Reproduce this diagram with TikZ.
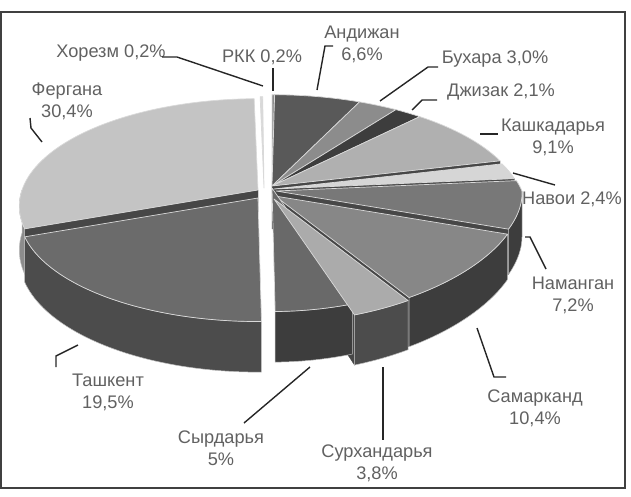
\documentclass[tikz,border=0pt]{standalone}
\usepackage{fontspec}
\setmainfont{Liberation Sans}
\usepackage{tikz}

\begin{document}
\begin{tikzpicture}[x=1pt, y=-1pt,
  declare function={pxl(\t)=236*cos(\t)/(1+0.15*sin(\t));
    pxr(\t)=246*cos(\t)/(1+0.18*max(sin(\t),0)+0.02*min(sin(\t),0));
    pyt(\t)=-105*sin(\t)/(1+0.15*sin(\t));
    pyb(\t)=(43-105*sin(\t))/(1+0.15*sin(\t));},
  slicetop/.style={draw=white!85!black, line width=0.7pt, line join=round},
  slicewall/.style={draw=white!75!black, line width=0.5pt, line join=round},
  sliceface/.style={fill=black!72, draw=black!72, line width=0.3pt},
  regionlabel/.style={font=\fontsize{18.2}{22}\selectfont, text=black!62, align=center, inner sep=0pt},
  leaderline/.style={draw=black!85, line width=1.4pt}]
\useasboundingbox (0,0) rectangle (631,496);
\draw[black!75, line width=1.5pt] (1,12) rectangle (625,488);
% left half
\filldraw[sliceface] (258,190) -- ({258+pxl(200.52)},{190+pyt(200.52)}) -- ({258+pxl(200.52)},{190+pyb(200.52)}) -- (258,233) -- cycle;
\filldraw[slicewall, fill=black!45] plot[domain=180:200.52, samples=20] ({258+pxl(\x)},{190+pyt(\x)}) -- plot[domain=200.52:180, samples=20] ({258+pxl(\x)},{190+pyb(\x)}) -- cycle;
\filldraw[slicetop, fill=black!23] (258,190) -- plot[domain=91.08:200.52, samples=60] ({258+pxl(\x)},{190+pyt(\x)}) -- cycle;
\filldraw[slicetop, fill=black!15] (264,188) -- plot[domain=90.36:91.08, samples=3] ({264+pxl(\x)},{188+pyt(\x)}) -- cycle;
% right half, back slices
\filldraw[slicetop, fill=black!45] (272,186) -- plot[domain=89.28:90, samples=3] ({272+pxr(\x)},{186+pyt(\x)}) -- cycle;
\filldraw[slicetop, fill=black!65] (272,186) -- plot[domain=65.52:89.28, samples=30] ({272+pxr(\x)},{186+pyt(\x)}) -- cycle;
\filldraw[slicetop, fill=black!45] (272,186) -- plot[domain=54.72:65.52, samples=15] ({272+pxr(\x)},{186+pyt(\x)}) -- cycle;
\filldraw[slicetop, fill=black!76] (272,186) -- plot[domain=47.16:54.72, samples=10] ({272+pxr(\x)},{186+pyt(\x)}) -- cycle;
\filldraw[sliceface] (272,186) -- ({272+pxr(14.4)},{186+pyt(14.4)}) -- ({272+pxr(14.4)},{186+pyb(14.4)}) -- (272,229) -- cycle;
\filldraw[slicetop, fill=black!31] (272,186) -- plot[domain=14.4:47.16, samples=40] ({272+pxr(\x)},{186+pyt(\x)}) -- cycle;
\filldraw[sliceface] (274,189) -- ({274+pxr(5.76)},{189+pyt(5.76)}) -- ({274+pxr(5.76)},{189+pyb(5.76)}) -- (274,232) -- cycle;
\filldraw[slicetop, fill=black!16] (274,189) -- plot[domain=5.76:14.4, samples=10] ({274+pxr(\x)},{189+pyt(\x)}) -- cycle;
% right half, front slices
\filldraw[sliceface] (276,191) -- ({276+pxr(-20.16)},{191+pyt(-20.16)}) -- ({276+pxr(-20.16)},{191+pyb(-20.16)}) -- (276,234) -- cycle;
\filldraw[slicewall, fill=black!76] plot[domain=-20.16:0, samples=15] ({276+pxr(\x)},{191+pyt(\x)}) -- plot[domain=0:-20.16, samples=15] ({276+pxr(\x)},{191+pyb(\x)}) -- cycle;
\filldraw[slicetop, fill=black!53] (276,191) -- plot[domain=-20.16:5.76, samples=30] ({276+pxr(\x)},{191+pyt(\x)}) -- cycle;
\filldraw[sliceface] (275,196) -- ({275+pxr(-57.6)},{196+pyt(-57.6)}) -- ({275+pxr(-57.6)},{196+pyb(-57.6)}) -- (275,239) -- cycle;
\filldraw[slicewall, fill=black!76] plot[domain=-57.6:-20.16, samples=40] ({275+pxr(\x)},{196+pyt(\x)}) -- plot[domain=-20.16:-57.6, samples=40] ({275+pxr(\x)},{196+pyb(\x)}) -- cycle;
\filldraw[slicetop, fill=black!47] (275,196) -- plot[domain=-57.6:-20.16, samples=40] ({275+pxr(\x)},{196+pyt(\x)}) -- cycle;
% Tashkent
\filldraw[slicewall, fill=black!70] plot[domain=-159.48:-89.28, samples=60] ({258+pxl(\x)},{198+pyt(\x)}) -- plot[domain=-89.28:-159.48, samples=60] ({258+pxl(\x)},{198+pyb(\x)}) -- cycle;
\filldraw[slicetop, fill=black!58] (258,198) -- plot[domain=-159.48:-89.28, samples=60] ({258+pxl(\x)},{198+pyt(\x)}) -- cycle;
% Syrdarya and Surxandarya
\filldraw[sliceface] (274,199) -- ({274+pxr(-71.28)},{199+pyt(-71.28)}) -- ({274+pxr(-71.28)},{199+pyb(-71.28)}) -- (274,242) -- cycle;
\filldraw[slicewall, fill=black!76] plot[domain=-89.28:-71.28, samples=20] ({272+pxr(\x)},{188+pyt(\x)}) -- plot[domain=-71.28:-89.28, samples=20] ({272+pxr(\x)},{188+pyb(\x)}) -- cycle;
\filldraw[slicetop, fill=black!59] (272,188) -- plot[domain=-89.28:-71.28, samples=20] ({272+pxr(\x)},{188+pyt(\x)}) -- cycle;
\filldraw[slicewall, fill=black!70] plot[domain=-71.28:-57.6, samples=15] ({274+pxr(\x)},{199+pyt(\x)}) -- plot[domain=-57.6:-71.28, samples=15] ({274+pxr(\x)},{199+pyb(\x)}) -- cycle;
\filldraw[slicetop, fill=black!33] (274,199) -- plot[domain=-71.28:-57.6, samples=15] ({274+pxr(\x)},{199+pyt(\x)}) -- cycle;
% labels
\node[regionlabel] (xorezm) at (111,53) {Хорезм 0,2\%};
\node[regionlabel] (rkk) at (262,57) {РКК 0,2\%};
\node[regionlabel] (andijan) at (362,44) {Андижан\\6,6\%};
\node[regionlabel] (buxara) at (495,59) {Бухара 3,0\%};
\node[regionlabel] (jizak) at (501,92) {Джизак 2,1\%};
\node[regionlabel] (kashka) at (553,137) {Кашкадарья\\9,1\%};
\node[regionlabel] (navoi) at (572,199) {Навои 2,4\%};
\node[regionlabel] (namangan) at (573,295) {Наманган\\7,2\%};
\node[regionlabel] (samarkand) at (535,408) {Самарканд\\10,4\%};
\node[regionlabel] (surxan) at (377,463) {Сурхандарья\\3,8\%};
\node[regionlabel] (syrdarya) at (221,448) {Сырдарья\\5\%};
\node[regionlabel] (toshkent) at (108,392) {Ташкент\\19,5\%};
\node[regionlabel] (fergana) at (67,101) {Фергана\\30,4\%};
% leader lines
\coordinate (xorezm-a) at (162,57);
\coordinate (xorezm-b) at (177,57);
\coordinate (xorezm-c) at (263,86);
\draw[leaderline] (xorezm-a) -- (xorezm-b) -- (xorezm-c);
\coordinate (rkk-a) at (273,68);
\coordinate (rkk-b) at (273,91);
\draw[leaderline] (rkk-a) -- (rkk-b);
\coordinate (andijan-a) at (333,46);
\coordinate (andijan-b) at (325,46);
\coordinate (andijan-c) at (317,90);
\draw[leaderline] (andijan-a) -- (andijan-b) -- (andijan-c);
\coordinate (buxara-a) at (438,67);
\coordinate (buxara-b) at (428,67);
\coordinate (buxara-c) at (380,101);
\draw[leaderline] (buxara-a) -- (buxara-b) -- (buxara-c);
\coordinate (jizak-a) at (437,100);
\coordinate (jizak-b) at (422,100);
\coordinate (jizak-c) at (412,110);
\draw[leaderline] (jizak-a) -- (jizak-b) -- (jizak-c);
\coordinate (kashka-a) at (480,134);
\coordinate (kashka-b) at (498,134);
\draw[leaderline] (kashka-a) -- (kashka-b);
\coordinate (navoi-a) at (513,173);
\coordinate (navoi-b) at (555,185);
\draw[leaderline] (navoi-a) -- (navoi-b);
\coordinate (namangan-a) at (525,237);
\coordinate (namangan-b) at (530,237);
\coordinate (namangan-c) at (546,269);
\draw[leaderline] (namangan-a) -- (namangan-b) -- (namangan-c);
\coordinate (samarkand-a) at (477,328);
\coordinate (samarkand-b) at (494,377);
\coordinate (samarkand-c) at (506,377);
\draw[leaderline] (samarkand-a) -- (samarkand-b) -- (samarkand-c);
\coordinate (surxan-a) at (383,367);
\coordinate (surxan-b) at (383,440);
\draw[leaderline] (surxan-a) -- (surxan-b);
\coordinate (syrdarya-a) at (310,367);
\coordinate (syrdarya-b) at (244,423);
\draw[leaderline] (syrdarya-a) -- (syrdarya-b);
\coordinate (toshkent-a) at (78,345);
\coordinate (toshkent-b) at (56,356);
\coordinate (toshkent-c) at (56,367);
\draw[leaderline] (toshkent-a) -- (toshkent-b) -- (toshkent-c);
\coordinate (fergana-a) at (30,118);
\coordinate (fergana-b) at (31,128);
\coordinate (fergana-c) at (42,142);
\draw[leaderline] (fergana-a) -- (fergana-b) -- (fergana-c);
\end{tikzpicture}
\end{document}
